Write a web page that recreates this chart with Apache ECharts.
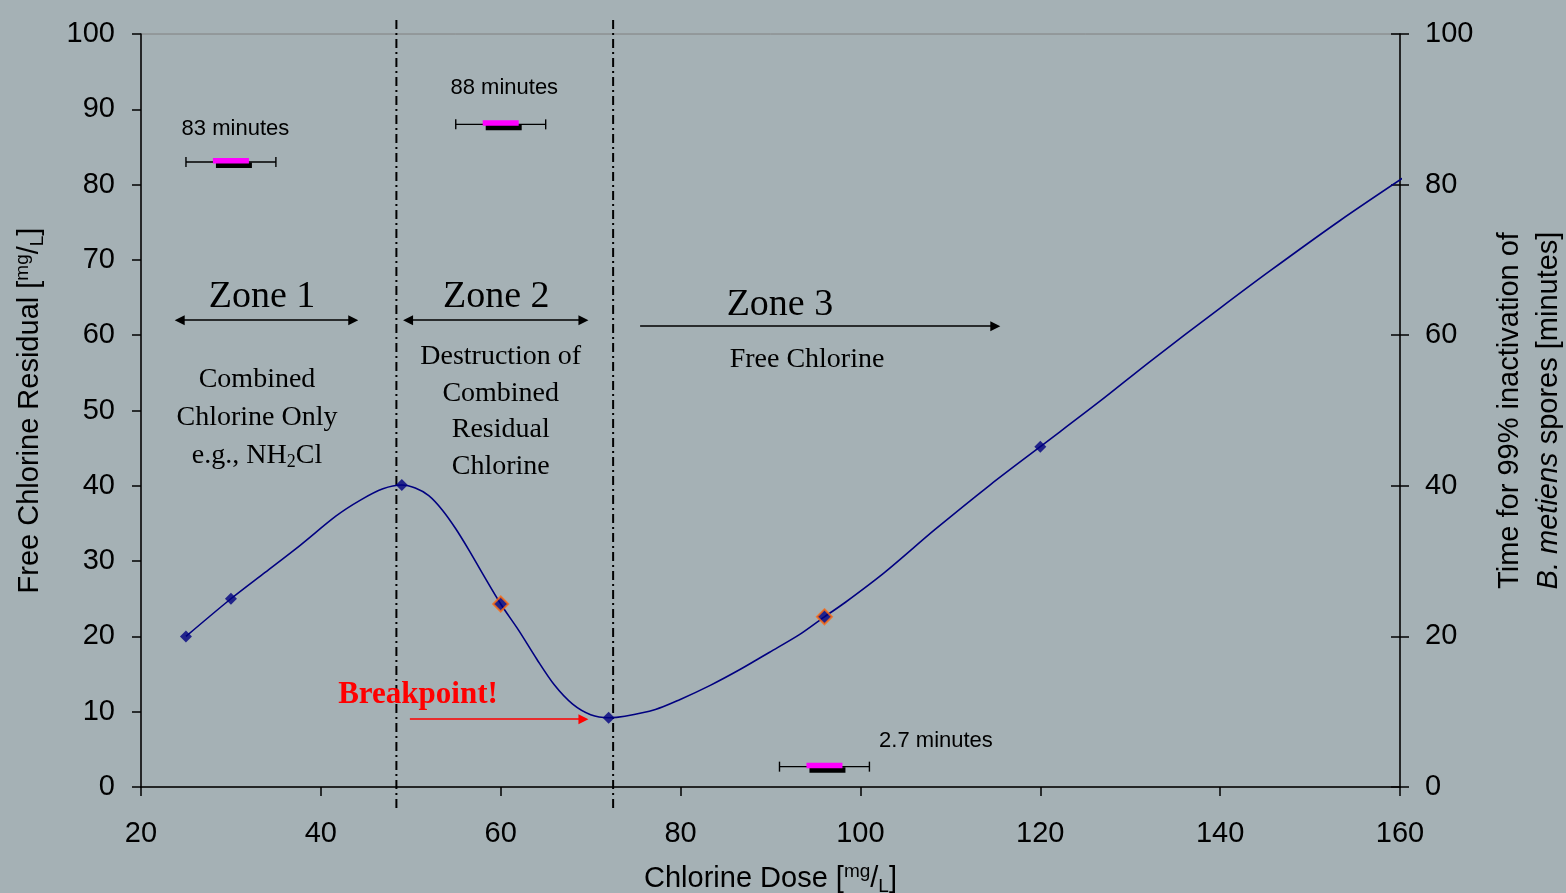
<!DOCTYPE html>
<html><head><meta charset="utf-8">
<script src="https://cdn.jsdelivr.net/npm/echarts@6/dist/echarts.min.js"></script>
<style>html,body{margin:0;padding:0;background:#a5b1b5;}#c{width:1566px;height:893px;}</style>
</head><body><div id="c"></div>
<script>
// ---- data ----
const xTicks = [20, 40, 60, 80, 100, 120, 140, 160];
const curveX = [25, 30, 33.8, 37.7, 41.7, 44.4, 46.9, 49, 50.5, 52, 53.5, 55, 56.5, 58, 60, 62, 64, 66, 68, 70, 72, 73.8, 77.2, 79.9, 83.3, 86.6, 89.9, 93.3, 96, 98.3, 102.7, 108.3, 114.4, 120, 126.6, 132.2, 140, 145.5, 153.3, 161.1];
const curveY = [20, 25, 28.5, 32.1, 36, 38.1, 39.6, 40.1, 39.7, 38.7, 36.8, 34.3, 31.4, 28.3, 24.3, 20.8, 17.0, 13.5, 11.0, 9.6, 9.2, 9.4, 10.3, 11.6, 13.5, 15.6, 17.9, 20.3, 22.6, 24.5, 28.5, 34.2, 40.1, 45.2, 51.2, 56.5, 63.6, 68.5, 75.2, 81.5];
const markerX = [25, 30, 49, 72, 120];
const markerY = [20, 25, 40.1, 9.2, 45.2];
const hiliteX = [60, 96];
const hiliteY = [24.3, 22.6];
const timeX = [30, 60, 96];
const timeY = [83, 88, 2.7];
const timeLabels = ['83 minutes', '88 minutes', '2.7 minutes'];
const whiskerHalf = [5, 5, 5];
const boxHalf = [2, 2, 2];
const zoneBoundX = [48.4, 72.5];
const zoneBoundSpan = [-2.8, 102.3];

// ---- annotations (data coords) ----
const timeLabelPos = [[30.5, 87.4], [60.4, 92.8], [108.4, 6.1]];
const serifTexts = [
  { t: 'Zone 1', p: [33.45, 65.1], s: 38 },
  { t: 'Zone 2', p: [59.5, 65.1], s: 38 },
  { t: 'Zone 3', p: [91.05, 64.0], s: 38 },
  { t: 'Combined', p: [32.9, 54.05], s: 28 },
  { t: 'Chlorine Only', p: [32.9, 49.1], s: 28 },
  { t: 'e.g., NH{sub|2}Cl', p: [32.9, 44.0], s: 28 },
  { t: 'Destruction of', p: [60.0, 57.1], s: 28 },
  { t: 'Combined', p: [60.0, 52.3], s: 28 },
  { t: 'Residual', p: [60.0, 47.4], s: 28 },
  { t: 'Chlorine', p: [60.0, 42.6], s: 28 },
  { t: 'Free Chlorine', p: [94.06, 56.7], s: 28 }
];
const doubleArrows = [[[24.3, 62], [43.6, 62]], [[49.7, 62], [69.2, 62]]];
const singleArrows = [[[75.5, 61.2], [115.0, 61.2]]];
const redArrows = [[[49.9, 9.0], [69.2, 9.0]]];

const FS = 'Liberation Sans, Arial, sans-serif';
const SERIF = 'Liberation Serif, Times New Roman, serif';

const chart = echarts.init(document.getElementById('c'), null, { renderer: 'canvas' });

const axisLineStyle = { color: '#000', width: 1.5 };
const option = {
  backgroundColor: '#a5b1b5',
  animation: false,
  grid: { left: 141, right: 166, top: 34, bottom: 106, outerBoundsMode: 'none', containLabel: false, show: true, borderColor: '#808080', borderWidth: 1, backgroundColor: 'transparent' },
  xAxis: {
    type: 'value', min: 20, max: 160, interval: 20,
    axisLine: { show: true, lineStyle: axisLineStyle },
    axisTick: { show: true, inside: false, length: 9, lineStyle: axisLineStyle },
    axisLabel: { fontSize: 29, color: '#000', fontFamily: FS, margin: 32, formatter: v => xTicks.includes(v) ? String(v) : '' },
    splitLine: { show: false },
    name: 'Chlorine Dose [{sup|mg}/{sub|L}]', nameLocation: 'middle', nameGap: 75,
    nameTextStyle: {
      fontSize: 29, color: '#000', fontFamily: FS, lineHeight: 34,
      rich: { sup: { fontSize: 19, fontFamily: FS, color: '#000', verticalAlign: 'top', lineHeight: 34 },
              sub: { fontSize: 19, fontFamily: FS, color: '#000', verticalAlign: 'bottom', lineHeight: 34 } }
    }
  },
  yAxis: [
    {
      type: 'value', position: 'left', min: 0, max: 100, interval: 10,
      axisLine: { show: true, lineStyle: axisLineStyle },
      axisTick: { show: true, inside: false, length: 9, lineStyle: axisLineStyle },
      axisLabel: { fontSize: 29, color: '#000', fontFamily: FS, margin: 26 },
      splitLine: { show: false },
      name: 'Free Chlorine Residual [{sup|mg}/{sub|L}]', nameLocation: 'middle', nameGap: 94, nameRotate: 90,
      nameTextStyle: {
        fontSize: 29, color: '#000', fontFamily: FS, lineHeight: 34,
        rich: { sup: { fontSize: 19, fontFamily: FS, color: '#000', verticalAlign: 'top', lineHeight: 34 },
                sub: { fontSize: 19, fontFamily: FS, color: '#000', verticalAlign: 'bottom', lineHeight: 34 } }
      }
    },
    {
      type: 'value', position: 'right', min: 0, max: 100, interval: 20,
      axisLine: { show: true, lineStyle: axisLineStyle },
      axisTick: { show: true, inside: false, length: 9, lineStyle: axisLineStyle },
      axisLabel: { fontSize: 29, color: '#000', fontFamily: FS, margin: 25 },
      splitLine: { show: false },
      name: '{a|Time for 99% inactivation of}\n{i|B. metiens}{a| spores [minutes]}', nameLocation: 'middle', nameGap: 90, nameRotate: 90,
      nameTextStyle: {
        fontSize: 29, color: '#000', fontFamily: FS, lineHeight: 39,
        rich: { a: { fontSize: 29, fontFamily: FS, color: '#000', lineHeight: 39 },
                i: { fontSize: 29, fontFamily: FS, color: '#000', fontStyle: 'italic', lineHeight: 39 } }
      }
    },
    {
      type: 'value', position: 'right', min: 0, max: 100, interval: 20,
      axisLine: { show: false },
      axisTick: { show: true, inside: true, length: 9, lineStyle: axisLineStyle },
      axisLabel: { show: false },
      splitLine: { show: false }
    }
  ],
  series: [
    {
      type: 'line', name: 'residual', xAxisIndex: 0, yAxisIndex: 0,
      data: curveX.map((x, i) => [x, curveY[i]]),
      smooth: 0.3, showSymbol: false, symbol: 'none', clip: false,
      lineStyle: { color: '#000080', width: 1.6 }, z: 3
    },
    {
      type: 'scatter', data: markerX.map((x, i) => [x, markerY[i]]),
      symbol: 'diamond', symbolSize: 12, itemStyle: { color: '#000080' }, z: 5
    },
    {
      type: 'scatter', data: hiliteX.map((x, i) => [x, hiliteY[i]]),
      symbol: 'diamond', symbolSize: 15, itemStyle: { color: '#000080', borderColor: '#ff6a10', borderWidth: 2 }, z: 5
    },
    ...zoneBoundX.map(x => ({
      type: 'line', data: zoneBoundSpan.map(y => [x, y]), symbol: 'none', clip: false,
      lineStyle: { color: '#000', width: 2, type: [9, 4, 2, 4] }, z: 2
    })),
    {
      type: 'custom', yAxisIndex: 1, clip: false, z: 6,
      data: timeX.map((x, i) => [x, timeY[i], whiskerHalf[i], boxHalf[i]]),
      renderItem: function (params, api) {
        const x = api.value(0), y = api.value(1), w = api.value(2), b = api.value(3);
        const pL = api.coord([x - w, y]), pR = api.coord([x + w, y]);
        const bL = api.coord([x - b, y]), bR = api.coord([x + b, y]);
        const cap = 5, st = { stroke: '#000', lineWidth: 1.4 };
        return {
          type: 'group', children: [
            { type: 'line', shape: { x1: pL[0], y1: pL[1], x2: pR[0], y2: pR[1] }, style: st },
            { type: 'line', shape: { x1: pL[0], y1: pL[1] - cap, x2: pL[0], y2: pL[1] + cap }, style: st },
            { type: 'line', shape: { x1: pR[0], y1: pR[1] - cap, x2: pR[0], y2: pR[1] + cap }, style: st },
            { type: 'rect', shape: { x: bL[0] + 3, y: bL[1] + 0.5, width: bR[0] - bL[0], height: 5.5 }, style: { fill: '#000' } },
            { type: 'rect', shape: { x: bL[0], y: bL[1] - 4, width: bR[0] - bL[0], height: 5.5 }, style: { fill: '#ff00ff' } }
          ]
        };
      }
    },
    {
      type: 'lines', coordinateSystem: 'cartesian2d', polyline: false,
      data: doubleArrows.map(c => ({ coords: c })),
      symbol: ['triangle', 'triangle'], symbolSize: 10,
      lineStyle: { color: '#000', width: 1.5, opacity: 1 }, z: 4
    },
    {
      type: 'lines', coordinateSystem: 'cartesian2d', polyline: false,
      data: singleArrows.map(c => ({ coords: c })),
      symbol: ['none', 'triangle'], symbolSize: 10,
      lineStyle: { color: '#000', width: 1.5, opacity: 1 }, z: 4
    },
    {
      type: 'lines', coordinateSystem: 'cartesian2d', polyline: false,
      data: redArrows.map(c => ({ coords: c })),
      symbol: ['none', 'triangle'], symbolSize: 10,
      lineStyle: { color: '#ff0000', width: 1.5, opacity: 1 }, itemStyle: { color: '#ff0000' }, z: 4
    }
  ]
};
chart.setOption(option);

const px = p => chart.convertToPixel({ gridIndex: 0 }, p);
const graphics = [];
serifTexts.forEach(o => {
  const q = px(o.p);
  graphics.push({
    type: 'text', x: q[0], y: q[1], z: 10,
    style: {
      text: o.t, fill: '#000', fontSize: o.s, fontFamily: SERIF,
      align: 'center', verticalAlign: 'middle', lineHeight: o.s,
      rich: { sub: { fontSize: 18, fontFamily: SERIF, fill: '#000', verticalAlign: 'bottom', lineHeight: 32 } }
    }
  });
});
timeLabels.forEach((t, i) => {
  const q = px(timeLabelPos[i]);
  graphics.push({
    type: 'text', x: q[0], y: q[1], z: 10,
    style: { text: t, fill: '#000', fontSize: 22, fontFamily: FS, align: 'center', verticalAlign: 'middle' }
  });
});
{
  const q = px([50.8, 12.2]);
  graphics.push({
    type: 'text', x: q[0], y: q[1], z: 10,
    style: { text: 'Breakpoint!', fill: '#ff0000', fontSize: 31, fontWeight: 'bold', fontFamily: SERIF, align: 'center', verticalAlign: 'middle' }
  });
}
chart.setOption({ graphic: graphics });
</script>
</body></html>
